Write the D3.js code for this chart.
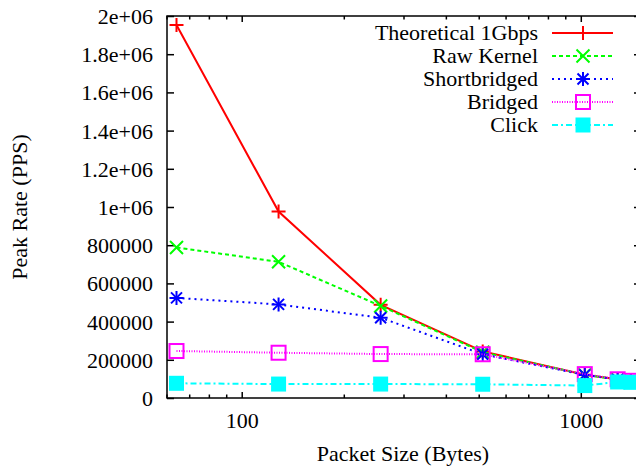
<!DOCTYPE html>
<html>
<head>
<meta charset="utf-8">
<script src="https://cdn.jsdelivr.net/npm/d3@7"></script>
</head>
<body style="margin:0;background:#fff;overflow:hidden">
<svg id="chart" width="636" height="470" style="display:block"></svg>
<script>
'use strict';

// packet sizes (bytes) on a log axis
const packetSizes = [64, 128, 256, 512, 1024, 1280, 1400];

// peak rates (packets per second)
const theoretical = [1953000, 976000, 488000, 244000, 122000, 97600, 89300];
const rawKernel = [788000, 713000, 482000, 240000, 122000, 97000, 89000];
const shortbridged = [524000, 490000, 420000, 229000, 121000, 97000, 89000];
const bridged = [246000, 237000, 230000, 229000, 125000, 98000, 90000];
const click = [77000, 73000, 73000, 72000, 65000, 84000, 82000];

const seriesNames = ['Theoretical 1Gbps', 'Raw Kernel', 'Shortbridged', 'Bridged', 'Click'];
const seriesValues = [theoretical, rawKernel, shortbridged, bridged, click];

const yTicks = [0, 200000, 400000, 600000, 800000, 1000000, 1200000, 1400000, 1600000, 1800000, 2000000];
const xMajorTicks = [100, 1000];
const xMinorTicks = [60, 70, 80, 90, 200, 300, 400, 500, 600, 700, 800, 900];

const styles = [
    { color: '#ff0000', dash: null, marker: 'plus' },
    { color: '#00ff00', dash: '4,3', marker: 'cross' },
    { color: '#0000ff', dash: '2,4', marker: 'star' },
    { color: '#ff00ff', dash: '1,1.5', marker: 'box' },
    { color: '#00ffff', dash: '6,3,2,3', marker: 'fbox' }
];

const FONT = 'Liberation Serif';
const plotLeft = 167, plotRight = 641, plotTop = 16, plotBottom = 398;

const svg = d3.select('#chart');

const x = d3.scaleLog().domain([60, 1500]).range([plotLeft, plotRight]);
const y = d3.scaleLinear().domain([0, 2000000]).range([plotBottom, plotTop]);

function fmt(d) {
    if (d >= 1000000) return (d / 1000000) + 'e+06';
    return String(d);
}

// y axis, ticks inward, mirrored on the right
const yAxis = svg.append('g')
    .attr('transform', 'translate(' + plotLeft + ',0)')
    .call(d3.axisLeft(y).tickValues(yTicks).tickSize(-7).tickPadding(14).tickFormat(fmt));
yAxis.attr('font-family', FONT).attr('font-size', 22);
yAxis.select('.domain').remove();
yAxis.selectAll('text').attr('fill', '#000').attr('dy', '0.34em');
yAxis.selectAll('line').attr('stroke', '#000').attr('stroke-width', 1.5);

const yAxisR = svg.append('g')
    .attr('transform', 'translate(' + plotRight + ',0)')
    .call(d3.axisRight(y).tickValues(yTicks).tickSize(-7).tickFormat(''));
yAxisR.select('.domain').remove();
yAxisR.selectAll('line').attr('stroke', '#000').attr('stroke-width', 1.5);

// x axis, major and minor ticks, bottom and top
function xTicks(g, vals, len, dir) {
    g.selectAll(null).data(vals).enter().append('line')
        .attr('x1', d => x(d)).attr('x2', d => x(d))
        .attr('y1', 0).attr('y2', dir * len)
        .attr('stroke', '#000').attr('stroke-width', 1.5);
}
const xb = svg.append('g').attr('transform', 'translate(0,' + plotBottom + ')');
xTicks(xb, xMajorTicks, 6, -1);
xTicks(xb, xMinorTicks, 3.5, -1);
const xt = svg.append('g').attr('transform', 'translate(0,' + plotTop + ')');
xTicks(xt, xMajorTicks, 6, 1);
xTicks(xt, xMinorTicks, 3.5, 1);

xb.selectAll(null).data(xMajorTicks).enter().append('text')
    .attr('x', d => x(d)).attr('y', 30)
    .attr('text-anchor', 'middle').attr('font-size', 22).attr('font-family', FONT)
    .text(d => d);

// border
svg.append('rect')
    .attr('x', plotLeft).attr('y', plotTop)
    .attr('width', plotRight - plotLeft).attr('height', plotBottom - plotTop)
    .attr('fill', 'none').attr('stroke', '#000').attr('stroke-width', 1.5);

// axis titles
svg.append('text')
    .attr('x', 403).attr('y', 461)
    .attr('text-anchor', 'middle').attr('font-size', 22).attr('font-family', FONT)
    .text('Packet Size (Bytes)');
svg.append('text')
    .attr('transform', 'translate(27,207) rotate(-90)')
    .attr('text-anchor', 'middle').attr('font-size', 22).attr('font-family', FONT)
    .text('Peak Rate (PPS)');

// marker shapes
function drawMarker(g, type, color) {
    const s = 7;
    if (type === 'plus' || type === 'star') {
        g.append('path').attr('d', 'M' + (-s) + ',0H' + s + 'M0,' + (-s) + 'V' + s)
            .attr('stroke', color).attr('stroke-width', 2).attr('fill', 'none');
    }
    if (type === 'cross' || type === 'star') {
        const c = type === 'star' ? 5.5 : 6.5;
        g.append('path').attr('d', 'M' + (-c) + ',' + (-c) + 'L' + c + ',' + c + 'M' + (-c) + ',' + c + 'L' + c + ',' + (-c))
            .attr('stroke', color).attr('stroke-width', 2).attr('fill', 'none');
    }
    if (type === 'box') {
        g.append('rect').attr('x', -7).attr('y', -7).attr('width', 14).attr('height', 14)
            .attr('stroke', color).attr('stroke-width', 2).attr('fill', 'none');
    }
    if (type === 'fbox') {
        g.append('rect').attr('x', -7.5).attr('y', -7.5).attr('width', 15).attr('height', 15)
            .attr('fill', color);
    }
}

const plot = svg.append('g');
const line = d3.line().x(d => x(d[0])).y(d => y(d[1]));

seriesValues.forEach((vals, i) => {
    const st = styles[i];
    const pts = packetSizes.map((p, j) => [p, vals[j]]);
    plot.append('path')
        .datum(pts)
        .attr('d', line)
        .attr('fill', 'none')
        .attr('stroke', st.color)
        .attr('stroke-width', 2)
        .attr('stroke-dasharray', st.dash);
    pts.forEach((p) => {
        const g = plot.append('g').attr('transform', 'translate(' + x(p[0]) + ',' + y(p[1]) + ')');
        drawMarker(g, st.marker, st.color);
    });
});

// legend
const legend = svg.append('g');
seriesNames.forEach((name, i) => {
    const st = styles[i];
    const ly = 33 + i * 23;
    legend.append('text')
        .attr('x', 538).attr('y', ly).attr('dy', '0.34em')
        .attr('text-anchor', 'end').attr('font-size', 22).attr('font-family', FONT)
        .text(name);
    legend.append('line')
        .attr('x1', 552).attr('x2', 613).attr('y1', ly).attr('y2', ly)
        .attr('stroke', st.color).attr('stroke-width', 2)
        .attr('stroke-dasharray', st.dash);
    const g = legend.append('g').attr('transform', 'translate(583,' + ly + ')');
    drawMarker(g, st.marker, st.color);
});
</script>
</body>
</html>
